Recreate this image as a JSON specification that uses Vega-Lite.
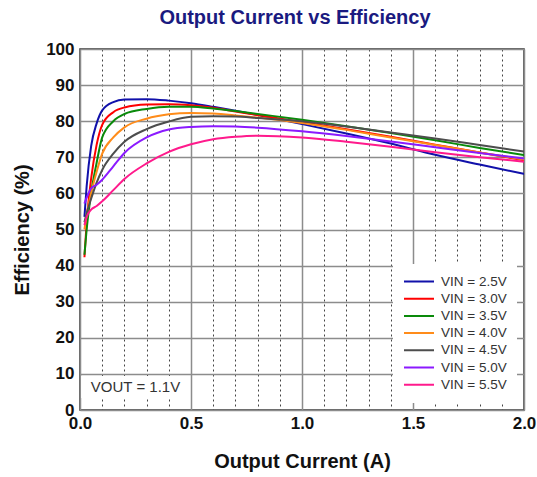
{
  "$schema": "https://vega.github.io/schema/vega-lite/v6.json",
  "width": 444,
  "height": 361,
  "autosize": "none",
  "padding": {"left": 80, "top": 49, "right": 13, "bottom": 67},
  "background": "white",
  "config": {
    "font": "Liberation Sans",
    "view": {"stroke": "#333333", "strokeWidth": 1.5}
  },
  "title": {
    "text": "Output Current vs Efficiency",
    "font": "Liberation Sans",
    "fontSize": 20,
    "fontWeight": "bold",
    "color": "#1a1a80",
    "anchor": "middle",
    "dx": -7,
    "offset": 12
  },
  "datasets": {
    "curves": [
      {"vin": "VIN = 2.5V", "i": 0.02, "eff": 53.5},
      {"vin": "VIN = 2.5V", "i": 0.03, "eff": 62},
      {"vin": "VIN = 2.5V", "i": 0.05, "eff": 73},
      {"vin": "VIN = 2.5V", "i": 0.075, "eff": 79.4},
      {"vin": "VIN = 2.5V", "i": 0.1, "eff": 83},
      {"vin": "VIN = 2.5V", "i": 0.15, "eff": 85.3},
      {"vin": "VIN = 2.5V", "i": 0.2, "eff": 86},
      {"vin": "VIN = 2.5V", "i": 0.3, "eff": 86.1},
      {"vin": "VIN = 2.5V", "i": 0.4, "eff": 85.7},
      {"vin": "VIN = 2.5V", "i": 0.5, "eff": 85},
      {"vin": "VIN = 2.5V", "i": 0.6, "eff": 84},
      {"vin": "VIN = 2.5V", "i": 0.7, "eff": 82.9},
      {"vin": "VIN = 2.5V", "i": 0.8, "eff": 81.7},
      {"vin": "VIN = 2.5V", "i": 1.0, "eff": 79.2},
      {"vin": "VIN = 2.5V", "i": 1.2, "eff": 76.6},
      {"vin": "VIN = 2.5V", "i": 1.4, "eff": 73.8},
      {"vin": "VIN = 2.5V", "i": 1.6, "eff": 70.7},
      {"vin": "VIN = 2.5V", "i": 1.8, "eff": 68},
      {"vin": "VIN = 2.5V", "i": 2.0, "eff": 65.4},

      {"vin": "VIN = 3.0V", "i": 0.02, "eff": 42.3},
      {"vin": "VIN = 3.0V", "i": 0.03, "eff": 52},
      {"vin": "VIN = 3.0V", "i": 0.05, "eff": 64},
      {"vin": "VIN = 3.0V", "i": 0.075, "eff": 73.5},
      {"vin": "VIN = 3.0V", "i": 0.1, "eff": 79},
      {"vin": "VIN = 3.0V", "i": 0.15, "eff": 82.5},
      {"vin": "VIN = 3.0V", "i": 0.2, "eff": 83.8},
      {"vin": "VIN = 3.0V", "i": 0.3, "eff": 84.6},
      {"vin": "VIN = 3.0V", "i": 0.4, "eff": 84.7},
      {"vin": "VIN = 3.0V", "i": 0.5, "eff": 84.4},
      {"vin": "VIN = 3.0V", "i": 0.6, "eff": 83.7},
      {"vin": "VIN = 3.0V", "i": 0.7, "eff": 82.7},
      {"vin": "VIN = 3.0V", "i": 0.8, "eff": 81.7},
      {"vin": "VIN = 3.0V", "i": 1.0, "eff": 79.8},
      {"vin": "VIN = 3.0V", "i": 1.2, "eff": 77.8},
      {"vin": "VIN = 3.0V", "i": 1.4, "eff": 75.7},
      {"vin": "VIN = 3.0V", "i": 1.6, "eff": 73.5},
      {"vin": "VIN = 3.0V", "i": 1.8, "eff": 71.3},
      {"vin": "VIN = 3.0V", "i": 2.0, "eff": 69.2},

      {"vin": "VIN = 3.5V", "i": 0.02, "eff": 43},
      {"vin": "VIN = 3.5V", "i": 0.03, "eff": 50},
      {"vin": "VIN = 3.5V", "i": 0.05, "eff": 60},
      {"vin": "VIN = 3.5V", "i": 0.075, "eff": 68.5},
      {"vin": "VIN = 3.5V", "i": 0.1, "eff": 75.5},
      {"vin": "VIN = 3.5V", "i": 0.15, "eff": 80},
      {"vin": "VIN = 3.5V", "i": 0.2, "eff": 82},
      {"vin": "VIN = 3.5V", "i": 0.3, "eff": 83.4},
      {"vin": "VIN = 3.5V", "i": 0.4, "eff": 84},
      {"vin": "VIN = 3.5V", "i": 0.5, "eff": 84},
      {"vin": "VIN = 3.5V", "i": 0.6, "eff": 83.5},
      {"vin": "VIN = 3.5V", "i": 0.7, "eff": 82.8},
      {"vin": "VIN = 3.5V", "i": 0.8, "eff": 82},
      {"vin": "VIN = 3.5V", "i": 1.0, "eff": 80.4},
      {"vin": "VIN = 3.5V", "i": 1.2, "eff": 78.6},
      {"vin": "VIN = 3.5V", "i": 1.4, "eff": 76.7},
      {"vin": "VIN = 3.5V", "i": 1.6, "eff": 74.7},
      {"vin": "VIN = 3.5V", "i": 1.8, "eff": 72.6},
      {"vin": "VIN = 3.5V", "i": 2.0, "eff": 70.6},

      {"vin": "VIN = 4.0V", "i": 0.02, "eff": 50},
      {"vin": "VIN = 4.0V", "i": 0.03, "eff": 54},
      {"vin": "VIN = 4.0V", "i": 0.05, "eff": 60},
      {"vin": "VIN = 4.0V", "i": 0.075, "eff": 66},
      {"vin": "VIN = 4.0V", "i": 0.1, "eff": 71},
      {"vin": "VIN = 4.0V", "i": 0.15, "eff": 75.5},
      {"vin": "VIN = 4.0V", "i": 0.2, "eff": 78.3},
      {"vin": "VIN = 4.0V", "i": 0.3, "eff": 80.7},
      {"vin": "VIN = 4.0V", "i": 0.4, "eff": 81.9},
      {"vin": "VIN = 4.0V", "i": 0.5, "eff": 82.3},
      {"vin": "VIN = 4.0V", "i": 0.6, "eff": 82.1},
      {"vin": "VIN = 4.0V", "i": 0.7, "eff": 81.6},
      {"vin": "VIN = 4.0V", "i": 0.8, "eff": 81},
      {"vin": "VIN = 4.0V", "i": 1.0, "eff": 79.5},
      {"vin": "VIN = 4.0V", "i": 1.2, "eff": 77.6},
      {"vin": "VIN = 4.0V", "i": 1.4, "eff": 75.5},
      {"vin": "VIN = 4.0V", "i": 1.6, "eff": 73.4},
      {"vin": "VIN = 4.0V", "i": 1.8, "eff": 71.3},
      {"vin": "VIN = 4.0V", "i": 2.0, "eff": 69.4},

      {"vin": "VIN = 4.5V", "i": 0.02, "eff": 52},
      {"vin": "VIN = 4.5V", "i": 0.03, "eff": 54.5},
      {"vin": "VIN = 4.5V", "i": 0.05, "eff": 58.5},
      {"vin": "VIN = 4.5V", "i": 0.075, "eff": 63},
      {"vin": "VIN = 4.5V", "i": 0.1, "eff": 66.5},
      {"vin": "VIN = 4.5V", "i": 0.15, "eff": 71},
      {"vin": "VIN = 4.5V", "i": 0.2, "eff": 74.3},
      {"vin": "VIN = 4.5V", "i": 0.3, "eff": 77.8},
      {"vin": "VIN = 4.5V", "i": 0.4, "eff": 79.9},
      {"vin": "VIN = 4.5V", "i": 0.5, "eff": 81.2},
      {"vin": "VIN = 4.5V", "i": 0.6, "eff": 81.4},
      {"vin": "VIN = 4.5V", "i": 0.7, "eff": 81.3},
      {"vin": "VIN = 4.5V", "i": 0.8, "eff": 80.9},
      {"vin": "VIN = 4.5V", "i": 1.0, "eff": 80},
      {"vin": "VIN = 4.5V", "i": 1.2, "eff": 78.5},
      {"vin": "VIN = 4.5V", "i": 1.4, "eff": 76.9},
      {"vin": "VIN = 4.5V", "i": 1.6, "eff": 75.2},
      {"vin": "VIN = 4.5V", "i": 1.8, "eff": 73.4},
      {"vin": "VIN = 4.5V", "i": 2.0, "eff": 71.6},

      {"vin": "VIN = 5.0V", "i": 0.02, "eff": 57.2},
      {"vin": "VIN = 5.0V", "i": 0.03, "eff": 58.8},
      {"vin": "VIN = 5.0V", "i": 0.05, "eff": 61.4},
      {"vin": "VIN = 5.0V", "i": 0.075, "eff": 62.4},
      {"vin": "VIN = 5.0V", "i": 0.1, "eff": 63.8},
      {"vin": "VIN = 5.0V", "i": 0.15, "eff": 67.5},
      {"vin": "VIN = 5.0V", "i": 0.2, "eff": 71.2},
      {"vin": "VIN = 5.0V", "i": 0.3, "eff": 75.5},
      {"vin": "VIN = 5.0V", "i": 0.4, "eff": 77.7},
      {"vin": "VIN = 5.0V", "i": 0.5, "eff": 78.4},
      {"vin": "VIN = 5.0V", "i": 0.6, "eff": 78.6},
      {"vin": "VIN = 5.0V", "i": 0.7, "eff": 78.5},
      {"vin": "VIN = 5.0V", "i": 0.8, "eff": 78.2},
      {"vin": "VIN = 5.0V", "i": 1.0, "eff": 77.2},
      {"vin": "VIN = 5.0V", "i": 1.2, "eff": 75.9},
      {"vin": "VIN = 5.0V", "i": 1.4, "eff": 74.4},
      {"vin": "VIN = 5.0V", "i": 1.6, "eff": 72.8},
      {"vin": "VIN = 5.0V", "i": 1.8, "eff": 71.2},
      {"vin": "VIN = 5.0V", "i": 2.0, "eff": 69.7},

      {"vin": "VIN = 5.5V", "i": 0.02, "eff": 51.2},
      {"vin": "VIN = 5.5V", "i": 0.03, "eff": 53.5},
      {"vin": "VIN = 5.5V", "i": 0.05, "eff": 55.5},
      {"vin": "VIN = 5.5V", "i": 0.075, "eff": 56.5},
      {"vin": "VIN = 5.5V", "i": 0.1, "eff": 57.8},
      {"vin": "VIN = 5.5V", "i": 0.15, "eff": 60.9},
      {"vin": "VIN = 5.5V", "i": 0.2, "eff": 64},
      {"vin": "VIN = 5.5V", "i": 0.3, "eff": 68.3},
      {"vin": "VIN = 5.5V", "i": 0.4, "eff": 71.5},
      {"vin": "VIN = 5.5V", "i": 0.5, "eff": 73.6},
      {"vin": "VIN = 5.5V", "i": 0.6, "eff": 75},
      {"vin": "VIN = 5.5V", "i": 0.7, "eff": 75.7},
      {"vin": "VIN = 5.5V", "i": 0.8, "eff": 76},
      {"vin": "VIN = 5.5V", "i": 1.0, "eff": 75.5},
      {"vin": "VIN = 5.5V", "i": 1.2, "eff": 74.3},
      {"vin": "VIN = 5.5V", "i": 1.4, "eff": 72.9},
      {"vin": "VIN = 5.5V", "i": 1.6, "eff": 71.4},
      {"vin": "VIN = 5.5V", "i": 1.8, "eff": 70},
      {"vin": "VIN = 5.5V", "i": 2.0, "eff": 68.8}
    ],
    "note": [
      {"label": "VOUT = 1.1V", "x0": 0.005, "x1": 0.49, "xm": 0.25, "y0": 3.3, "y1": 9.4, "ym": 6.4}
    ]
  },
  "layer": [
    {
      "data": {"name": "curves"},
      "mark": {"type": "line", "interpolate": "monotone", "strokeWidth": 2, "clip": true},
      "encoding": {
        "x": {
          "field": "i",
          "type": "quantitative",
          "scale": {"domain": [0, 2], "nice": false, "zero": true},
          "axis": {
            "title": "Output Current (A)",
            "titleFont": "Liberation Sans",
            "titleFontSize": 20,
            "titleFontWeight": "bold",
            "titleColor": "#111111",
            "titlePadding": 20,
            "values": [0, 0.1, 0.2, 0.3, 0.4, 0.5, 0.6, 0.7, 0.8, 0.9, 1.0, 1.1, 1.2, 1.3, 1.4, 1.5, 1.6, 1.7, 1.8, 1.9, 2.0],
            "labelExpr": "abs(datum.value * 10 % 5) < 0.01 ? format(datum.value, '.1f') : ''",
            "labelFont": "Liberation Sans",
            "labelFontSize": 17,
            "labelFontWeight": "bold",
            "labelColor": "#111111",
            "labelPadding": 5,
            "labelFlush": false,
            "labelOverlap": false,
            "ticks": false,
            "domain": false,
            "grid": true,
            "gridColor": {"condition": {"test": "abs(datum.value * 10 % 5) < 0.01", "value": "#8c8c8c"}, "value": "#444444"},
            "gridDash": {"condition": {"test": "abs(datum.value * 10 % 5) < 0.01", "value": []}, "value": [2, 3]},
            "gridWidth": {"condition": {"test": "abs(datum.value * 10 % 5) < 0.01", "value": 1.5}, "value": 1}
          }
        },
        "y": {
          "field": "eff",
          "type": "quantitative",
          "scale": {"domain": [0, 100], "nice": false},
          "axis": {
            "title": "Efficiency (%)",
            "titleFont": "Liberation Sans",
            "titleFontSize": 20,
            "titleFontWeight": "bold",
            "titleColor": "#111111",
            "titlePadding": 13,
            "values": [0, 10, 20, 30, 40, 50, 60, 70, 80, 90, 100],
            "labelFont": "Liberation Sans",
            "labelFontSize": 17,
            "labelFontWeight": "bold",
            "labelColor": "#111111",
            "labelPadding": 6,
            "labelOverlap": false,
            "labelFlush": false,
            "ticks": false,
            "domain": false,
            "grid": true,
            "gridColor": "#8c8c8c",
            "gridWidth": 1.5
          }
        },
        "color": {
          "field": "vin",
          "type": "nominal",
          "scale": {
            "domain": ["VIN = 2.5V", "VIN = 3.0V", "VIN = 3.5V", "VIN = 4.0V", "VIN = 4.5V", "VIN = 5.0V", "VIN = 5.5V"],
            "range": ["#1111aa", "#ff0000", "#0a8a0a", "#ff8c1a", "#4d4d4d", "#8b1aff", "#ff1a8c"]
          },
          "legend": {
            "title": null,
            "orient": "bottom-right",
            "offset": 7,
            "fillColor": "white",
            "padding": 10,
            "symbolType": "stroke",
            "symbolSize": 900,
            "symbolStrokeWidth": 2,
            "clipHeight": 15,
            "rowPadding": 2.2,
            "labelFont": "Liberation Sans",
            "labelFontSize": 13.5,
            "labelColor": "#333333",
            "labelOffset": 6
          }
        }
      }
    },
    {
      "data": {"name": "note"},
      "mark": {"type": "rect", "fill": "white"},
      "encoding": {
        "x": {"field": "x0", "type": "quantitative", "axis": {
            "title": "Output Current (A)",
            "titleFont": "Liberation Sans",
            "titleFontSize": 20,
            "titleFontWeight": "bold",
            "titleColor": "#111111",
            "titlePadding": 20,
            "values": [0, 0.1, 0.2, 0.3, 0.4, 0.5, 0.6, 0.7, 0.8, 0.9, 1.0, 1.1, 1.2, 1.3, 1.4, 1.5, 1.6, 1.7, 1.8, 1.9, 2.0],
            "labelExpr": "abs(datum.value * 10 % 5) < 0.01 ? format(datum.value, '.1f') : ''",
            "labelFont": "Liberation Sans",
            "labelFontSize": 17,
            "labelFontWeight": "bold",
            "labelColor": "#111111",
            "labelPadding": 5,
            "labelFlush": false,
            "labelOverlap": false,
            "ticks": false,
            "domain": false,
            "grid": true,
            "gridColor": {"condition": {"test": "abs(datum.value * 10 % 5) < 0.01", "value": "#8c8c8c"}, "value": "#444444"},
            "gridDash": {"condition": {"test": "abs(datum.value * 10 % 5) < 0.01", "value": []}, "value": [2, 3]},
            "gridWidth": {"condition": {"test": "abs(datum.value * 10 % 5) < 0.01", "value": 1.5}, "value": 1}
          }},
        "x2": {"field": "x1"},
        "y": {"field": "y0", "type": "quantitative", "axis": {
            "title": "Efficiency (%)",
            "titleFont": "Liberation Sans",
            "titleFontSize": 20,
            "titleFontWeight": "bold",
            "titleColor": "#111111",
            "titlePadding": 13,
            "values": [0, 10, 20, 30, 40, 50, 60, 70, 80, 90, 100],
            "labelFont": "Liberation Sans",
            "labelFontSize": 17,
            "labelFontWeight": "bold",
            "labelColor": "#111111",
            "labelPadding": 6,
            "labelOverlap": false,
            "labelFlush": false,
            "ticks": false,
            "domain": false,
            "grid": true,
            "gridColor": "#8c8c8c",
            "gridWidth": 1.5
          }},
        "y2": {"field": "y1"}
      }
    },
    {
      "data": {"name": "note"},
      "mark": {"type": "text", "font": "Liberation Sans", "fontSize": 15, "fill": "#333333", "align": "center", "baseline": "middle"},
      "encoding": {
        "x": {"field": "xm", "type": "quantitative", "axis": {
            "title": "Output Current (A)",
            "titleFont": "Liberation Sans",
            "titleFontSize": 20,
            "titleFontWeight": "bold",
            "titleColor": "#111111",
            "titlePadding": 20,
            "values": [0, 0.1, 0.2, 0.3, 0.4, 0.5, 0.6, 0.7, 0.8, 0.9, 1.0, 1.1, 1.2, 1.3, 1.4, 1.5, 1.6, 1.7, 1.8, 1.9, 2.0],
            "labelExpr": "abs(datum.value * 10 % 5) < 0.01 ? format(datum.value, '.1f') : ''",
            "labelFont": "Liberation Sans",
            "labelFontSize": 17,
            "labelFontWeight": "bold",
            "labelColor": "#111111",
            "labelPadding": 5,
            "labelFlush": false,
            "labelOverlap": false,
            "ticks": false,
            "domain": false,
            "grid": true,
            "gridColor": {"condition": {"test": "abs(datum.value * 10 % 5) < 0.01", "value": "#8c8c8c"}, "value": "#444444"},
            "gridDash": {"condition": {"test": "abs(datum.value * 10 % 5) < 0.01", "value": []}, "value": [2, 3]},
            "gridWidth": {"condition": {"test": "abs(datum.value * 10 % 5) < 0.01", "value": 1.5}, "value": 1}
          }},
        "y": {"field": "ym", "type": "quantitative", "axis": {
            "title": "Efficiency (%)",
            "titleFont": "Liberation Sans",
            "titleFontSize": 20,
            "titleFontWeight": "bold",
            "titleColor": "#111111",
            "titlePadding": 13,
            "values": [0, 10, 20, 30, 40, 50, 60, 70, 80, 90, 100],
            "labelFont": "Liberation Sans",
            "labelFontSize": 17,
            "labelFontWeight": "bold",
            "labelColor": "#111111",
            "labelPadding": 6,
            "labelOverlap": false,
            "labelFlush": false,
            "ticks": false,
            "domain": false,
            "grid": true,
            "gridColor": "#8c8c8c",
            "gridWidth": 1.5
          }},
        "text": {"field": "label"}
      }
    }
  ]
}
